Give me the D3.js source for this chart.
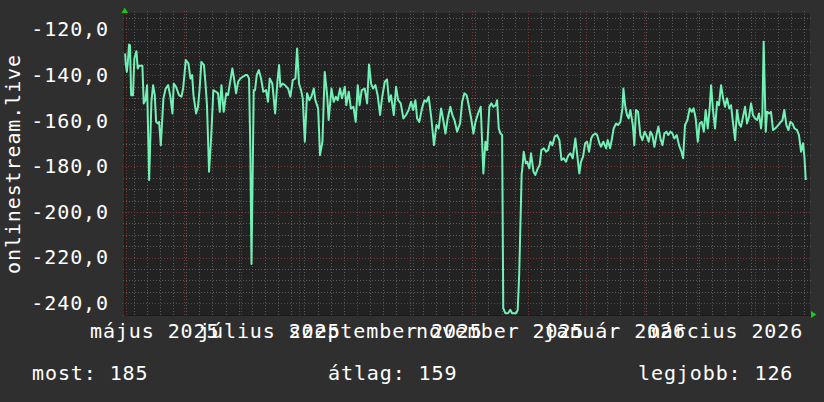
<!DOCTYPE html>
<html>
<head>
<meta charset="utf-8">
<script src="https://cdn.jsdelivr.net/npm/d3@7"></script>
<style>
html, body { margin: 0; padding: 0; background: #2f2f2f; }
svg { display: block; }
text { font-family: "DejaVu Sans Mono", monospace; font-size: 20px; fill: #ffffff; letter-spacing: 0.9px; }
</style>
</head>
<body>
<div id="chart"></div>
<script>
// napi értékek: [nap 2025-05-01 óta, érték]
var startDay = Date.UTC(2025, 4, 1);
var readings = [
  [-0.5,-130.5],[-0.2,-134.9],[0.4,-138.6],[0.9,-134.9],[1.6,-126.6],[2.1,-126.9],[2.7,-148.8],[3.7,-148.8],
  [4.4,-132.7],[5.5,-129.5],[6.2,-137.1],[6.9,-135.9],[8.7,-135.9],[9.4,-152.4],[10.3,-151.0],[11.2,-144.4],
  [12.3,-186.0],[13.5,-151.7],[14.4,-144.4],[15.3,-148.8],[16.0,-160.5],[17.0,-161.2],[17.6,-160.5],[18.5,-170.7],
  [19.9,-150.2],[21.1,-145.9],[22.4,-144.4],[23.6,-149.5],[24.7,-156.8],[25.4,-143.7],[26.6,-145.1],[28.2,-148.8],
  [29.5,-149.5],[30.4,-145.9],[31.8,-133.4],[33.2,-134.9],[34.3,-141.5],[35.2,-140.0],[35.9,-148.8],[37.3,-156.8],
  [38.3,-153.9],[39.2,-145.9],[40.1,-134.2],[41.5,-135.6],[42.3,-143.7],[43.1,-153.2],[44.2,-182.4],[45.3,-167.8],
  [46.5,-146.6],[47.9,-147.3],[49.0,-148.0],[49.9,-156.1],[50.8,-144.4],[52.0,-156.1],[53.3,-148.0],[54.3,-148.8],
  [55.6,-142.2],[56.6,-137.1],[57.5,-141.5],[58.6,-148.0],[59.7,-142.9],[60.9,-141.5],[62.1,-140.8],[63.6,-140.0],
  [64.6,-140.0],[65.5,-141.5],[66.2,-173.6],[66.8,-222.8],[67.3,-191.7],[68.0,-146.6],[68.7,-146.6],[69.6,-140.0],
  [70.7,-137.8],[71.9,-141.5],[73.1,-147.3],[74.6,-146.6],[75.6,-151.7],[76.5,-141.5],[77.9,-143.7],[79.4,-156.8],
  [80.6,-142.9],[81.5,-135.6],[82.2,-145.1],[83.4,-143.7],[85.0,-144.7],[86.3,-145.9],[87.5,-149.5],[88.8,-142.2],
  [90.2,-141.5],[91.1,-128.3],[92.1,-143.7],[93.2,-146.6],[94.1,-150.2],[95.2,-169.2],[96.4,-148.0],[97.6,-151.0],
  [98.7,-149.5],[100.0,-145.9],[100.8,-151.0],[102.3,-154.6],[103.3,-175.1],[104.6,-169.2],[105.8,-138.6],[107.1,-148.8],
  [107.9,-159.7],[109.4,-145.9],[110.6,-151.7],[111.7,-149.5],[112.7,-151.0],[114.0,-145.9],[115.0,-150.2],[116.5,-145.1],
  [117.3,-153.2],[118.6,-147.3],[119.7,-154.6],[121.1,-153.9],[122.3,-160.5],[123.4,-144.4],[124.4,-153.2],[125.5,-146.6],
  [127.1,-145.9],[128.4,-152.4],[129.4,-135.3],[130.5,-143.7],[131.6,-145.9],[132.8,-144.4],[134.0,-148.8],[135.3,-157.5],
  [136.3,-150.2],[137.8,-142.9],[139.0,-141.9],[140.1,-151.7],[141.1,-148.8],[142.6,-157.5],[143.8,-145.1],[144.9,-151.0],
  [146.3,-152.4],[147.7,-159.0],[149.1,-157.5],[150.5,-155.3],[151.8,-151.7],[152.9,-155.3],[154.1,-151.0],[155.0,-159.0],
  [156.2,-160.5],[157.6,-154.6],[158.9,-151.0],[160.0,-151.7],[161.2,-149.5],[162.6,-159.0],[164.0,-170.7],[165.3,-161.9],
  [166.5,-163.4],[167.8,-154.6],[168.8,-159.0],[170.1,-165.6],[171.3,-159.0],[172.7,-153.9],[173.8,-157.5],[174.9,-159.7],
  [176.3,-164.8],[177.9,-161.2],[179.0,-151.7],[180.2,-148.0],[181.4,-148.8],[182.5,-153.2],[183.8,-159.0],[185.0,-165.6],
  [186.1,-160.5],[187.5,-156.8],[188.9,-153.9],[190.3,-183.1],[191.4,-169.2],[192.3,-172.9],[193.5,-153.9],[194.6,-152.4],
  [195.6,-153.9],[196.9,-153.2],[197.6,-151.0],[198.5,-163.4],[199.4,-165.6],[200.3,-166.3],[200.9,-242.2],[202.0,-244.4],
  [203.5,-244.4],[204.6,-242.9],[205.6,-244.4],[207.8,-244.4],[208.6,-243.0],[209.4,-227.0],[210.7,-183.1],[210.9,-182.4],
  [211.8,-173.6],[212.9,-178.7],[213.6,-178.0],[214.8,-180.9],[215.7,-174.3],[217.0,-182.4],[218.0,-183.8],[219.3,-180.9],
  [220.3,-179.4],[221.2,-172.9],[222.5,-172.1],[223.7,-173.6],[224.8,-172.9],[226.0,-169.2],[227.1,-170.7],[228.3,-167.0],
  [229.6,-166.3],[230.8,-168.5],[231.9,-177.2],[233.1,-176.5],[234.3,-178.0],[235.6,-175.1],[236.7,-174.3],[237.9,-176.5],
  [239.3,-167.8],[240.2,-174.3],[241.4,-183.1],[242.3,-178.0],[243.4,-175.8],[244.5,-169.9],[245.5,-169.2],[246.6,-173.6],
  [247.7,-167.8],[248.7,-166.3],[250.0,-165.6],[250.9,-166.3],[252.1,-169.9],[253.0,-171.4],[254.2,-169.2],[255.7,-172.1],
  [256.5,-168.5],[257.8,-172.1],[258.8,-167.8],[259.7,-163.4],[261.0,-161.2],[262.0,-161.9],[263.3,-160.5],[264.4,-154.6],
  [264.9,-145.9],[265.8,-153.2],[266.8,-157.5],[267.7,-159.0],[268.6,-155.3],[269.9,-161.9],[270.7,-170.7],[271.6,-155.3],
  [272.7,-156.1],[273.9,-166.3],[275.0,-168.5],[276.2,-164.8],[277.1,-166.3],[278.4,-169.2],[279.3,-164.8],[280.3,-166.3],
  [281.4,-171.4],[282.5,-166.3],[283.5,-162.6],[284.6,-167.8],[285.7,-170.7],[286.7,-165.6],[287.8,-164.8],[288.8,-166.3],
  [289.9,-164.8],[291.0,-165.6],[292.0,-167.8],[293.3,-166.3],[294.5,-170.7],[295.8,-173.6],[296.7,-176.5],[297.7,-161.9],
  [299.0,-159.7],[300.2,-154.6],[301.3,-156.1],[302.3,-154.6],[303.4,-159.0],[304.5,-169.2],[305.5,-161.2],[306.6,-160.5],
  [307.7,-164.8],[308.7,-155.3],[309.8,-163.4],[310.9,-153.9],[311.6,-144.4],[312.6,-155.3],[313.7,-163.4],[314.8,-151.7],
  [315.8,-153.2],[316.9,-144.4],[318.0,-150.2],[319.0,-153.9],[320.1,-150.2],[321.2,-154.6],[322.2,-153.2],[323.3,-161.2],
  [324.4,-168.5],[325.4,-155.3],[326.5,-161.2],[327.5,-162.6],[328.6,-158.3],[329.7,-153.9],[330.7,-161.2],[331.8,-158.3],
  [332.9,-152.4],[333.9,-157.5],[335.0,-159.0],[336.1,-159.7],[337.1,-156.8],[338.2,-163.4],[338.9,-157.5],[339.6,-125.4],
  [340.7,-164.8],[341.4,-156.1],[342.5,-156.8],[343.5,-156.1],[344.6,-164.1],[345.7,-163.4],[346.7,-162.6],[348.1,-161.2],
  [349.6,-159.7],[350.6,-155.3],[351.7,-161.9],[352.8,-164.1],[353.8,-160.5],[354.9,-161.2],[356.0,-163.4],[357.4,-164.1],
  [358.4,-166.3],[359.5,-173.6],[360.6,-169.9],[361.3,-175.8],[362.0,-186.0]
];

var yTicks = [-240, -220, -200, -180, -160, -140, -120];
var monthNames = ["január","február","március","április","május","június","július","augusztus","szeptember","október","november","december"];
var legendLabels = ["most", "átlag", "legjobb"];
var legendValues = [185, 159, 126];
var axisTitle = "onlinestream.live";

var W = 824, H = 402;
var plot = {left: 124, right: 810, top: 13, bottom: 315};

var huTime = d3.timeFormatLocale({
  dateTime: "%Y. %B %-e. %X", date: "%Y. %m. %d.", time: "%H:%M:%S",
  periods: ["de.", "du."],
  days: ["vasárnap","hétfő","kedd","szerda","csütörtök","péntek","szombat"],
  shortDays: ["V","H","K","Sze","Cs","P","Szo"],
  months: monthNames,
  shortMonths: monthNames.map(function(m){ return m.slice(0, 3); })
});
var huNum = d3.formatLocale({decimal: ",", thousands: " ", grouping: [3], currency: ["", ""], minus: "-"});
var yFormat = huNum.format(".1f");
var xFormat = huTime.utcFormat("%B %Y");

var svg = d3.select("#chart").append("svg")
  .attr("width", W)
  .attr("height", H);

svg.append("rect").attr("width", W).attr("height", H).attr("fill", "#2f2f2f");

var xScale = d3.scaleUtc()
  .domain([new Date(Date.UTC(2025, 3, 30, 4)), new Date(Date.UTC(2026, 3, 30, 4))])
  .range([124.5, 809.8]);

var yScale = d3.scaleLinear()
  .domain([-245.2, -112.9])
  .range([315, 13.3]);

// rajzterület
svg.append("rect")
  .attr("x", plot.left)
  .attr("y", plot.top)
  .attr("width", plot.right - plot.left)
  .attr("height", plot.bottom - plot.top)
  .attr("fill", "#222222");

var grid = svg.append("g");
var crisp = function(v){ return Math.round(v) + 0.5; };

// vízszintes rács: 5-ös lépés szürke, 20-as piros
var yMinor = d3.range(-245, -112, 5).filter(function(v){ return v % 20 !== 0; });
grid.selectAll(".hmin").data(yMinor).enter().append("line")
  .attr("x1", plot.left - 1).attr("x2", plot.right + 1)
  .attr("y1", function(d){ return crisp(yScale(d)); })
  .attr("y2", function(d){ return crisp(yScale(d)); })
  .attr("stroke", "#5a5a5a").attr("stroke-dasharray", "1,2");

// függőleges rács: hetek (hétfő) és hónapok
var xd = xScale.domain();
grid.selectAll(".vmin").data(d3.utcMonday.range(xd[0], xd[1])).enter().append("line")
  .attr("y1", plot.top - 2).attr("y2", plot.bottom + 2)
  .attr("x1", function(d){ return crisp(xScale(d)); })
  .attr("x2", function(d){ return crisp(xScale(d)); })
  .attr("stroke", "#5a5a5a").attr("stroke-dasharray", "1,2");

grid.selectAll(".hmaj").data(yTicks).enter().append("line")
  .attr("x1", plot.left - 2).attr("x2", plot.right + 2)
  .attr("y1", function(d){ return crisp(yScale(d)); })
  .attr("y2", function(d){ return crisp(yScale(d)); })
  .attr("stroke", "#7e3434").attr("stroke-dasharray", "1,2");

grid.selectAll(".vmaj").data(d3.utcMonth.range(xd[0], xd[1])).enter().append("line")
  .attr("y1", plot.top - 2).attr("y2", plot.bottom + 2)
  .attr("x1", function(d){ return crisp(xScale(d)); })
  .attr("x2", function(d){ return crisp(xScale(d)); })
  .attr("stroke", "#7e3434").attr("stroke-dasharray", "1,2");

// tengelyek
svg.append("line")
  .attr("x1", plot.left + 0.5).attr("x2", plot.left + 0.5)
  .attr("y1", plot.top - 2).attr("y2", plot.bottom)
  .attr("stroke", "#1c1c1c");
svg.append("line")
  .attr("x1", plot.left).attr("x2", plot.right + 2)
  .attr("y1", plot.bottom + 0.5).attr("y2", plot.bottom + 0.5)
  .attr("stroke", "#1c1c1c");

svg.append("path")
  .attr("d", "M121.5,13 L124.8,7.5 L128,13 Z")
  .attr("fill", "#18c818");
svg.append("path")
  .attr("d", "M811,311 L816.5,314.5 L811,318 Z")
  .attr("fill", "#18c818");

// adatvonal
var line = d3.line()
  .x(function(d){ return xScale(new Date(startDay + d[0] * 864e5)); })
  .y(function(d){ return yScale(d[1]); });

svg.append("path")
  .datum(readings)
  .attr("d", line)
  .attr("fill", "none")
  .attr("stroke", "#72f0b6")
  .attr("stroke-width", 2)
  .attr("stroke-linejoin", "round");

// y címkék
var yAxis = svg.append("g")
  .attr("transform", "translate(" + plot.left + ",0)")
  .call(d3.axisLeft(yScale).tickValues(yTicks).tickFormat(yFormat).tickSize(0).tickPadding(15));
yAxis.select(".domain").remove();
yAxis.selectAll("text").attr("font-family", null).attr("font-size", null).attr("fill", "#fff");

// x címkék a hónap közepén
var labelMonths = d3.utcMonth.every(2).range(xd[0], xd[1]).map(function(d){ return d3.utcDay.offset(d, 15); });
var xAxis = svg.append("g")
  .attr("transform", "translate(0," + plot.bottom + ")")
  .call(d3.axisBottom(xScale).tickValues(labelMonths).tickFormat(xFormat).tickSize(0).tickPadding(9));
xAxis.select(".domain").remove();
xAxis.selectAll("text").attr("font-family", null).attr("font-size", null).attr("fill", "#fff");

svg.append("text")
  .attr("transform", "translate(19.5,164) rotate(-90)")
  .attr("text-anchor", "middle")
  .text(axisTitle);

var legendX = [32, 328, 638];
svg.selectAll(".legend").data(legendLabels).enter().append("text")
  .attr("x", function(d, i){ return legendX[i]; })
  .attr("y", 380)
  .text(function(d, i){ return d + ": " + legendValues[i]; });
</script>
</body>
</html>
